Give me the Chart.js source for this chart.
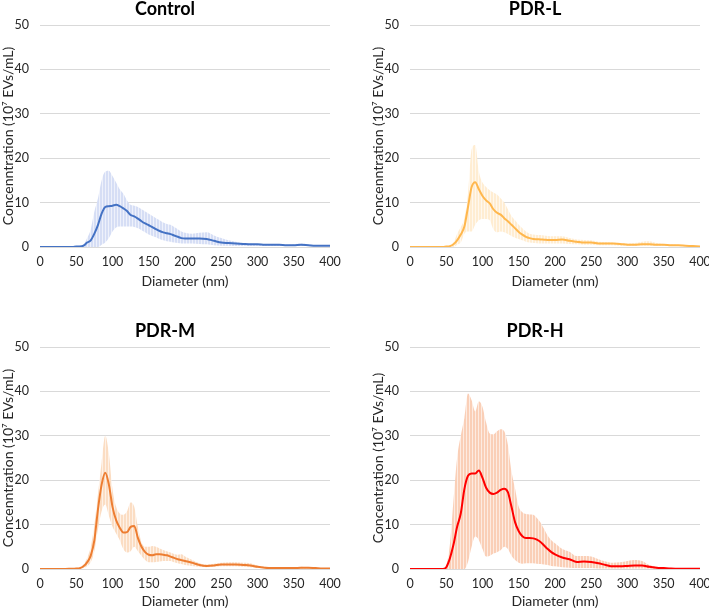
<!DOCTYPE html>
<html><head><meta charset="utf-8">
<script src="https://cdn.jsdelivr.net/npm/chart.js@4.4.1/dist/chart.umd.min.js"></script>
<style>
html,body{margin:0;padding:0;background:#fff;overflow:hidden;width:709px;height:611px;position:relative}
.p{position:absolute;width:374px;height:305px}
</style></head><body>
<div class="p" style="left:-20px;top:0"><canvas id="c0"></canvas></div>
<div class="p" style="left:350px;top:0"><canvas id="c1"></canvas></div>
<div class="p" style="left:-20px;top:322px"><canvas id="c2"></canvas></div>
<div class="p" style="left:350px;top:322px"><canvas id="c3"></canvas></div>
<script>
// Diameter (nm)
const diameters = [0,10,20,30,40,45,50,55,60,65,70,75,80,85,90,95,100,105,110,115,120,125,130,135,140,145,150,155,160,165,170,175,180,185,190,195,200,210,220,230,240,250,260,270,280,290,300,310,320,330,340,350,360,370,380,390,400];
const xTicks = [0,50,100,150,200,250,300,350,400];
const yTicks = [0,10,20,30,40,50];
const panelTitles = ['Control','PDR-L','PDR-M','PDR-H'];
const yTitles = ['Concenntration (10\u2077 EVs/mL)','Concenntration (10\u2077 EVs/mL)','Concenntration (10\u2077 EVs/mL)','Concentration (10\u2077 EVs/mL)'];

const controlMean  = [0,0,0,0,0,0,0.1,0.1,0.3,1.0,1.5,3.0,5.0,7.5,9.0,9.2,9.3,9.5,9.2,8.7,8.1,7.2,6.9,6.4,5.8,5.3,4.9,4.5,4.0,3.6,3.3,3.1,2.9,2.6,2.3,2.0,1.9,1.9,1.9,1.8,1.4,1.0,0.9,0.8,0.7,0.6,0.6,0.5,0.5,0.5,0.4,0.4,0.5,0.4,0.3,0.3,0.3];
const controlUpper = [0,0,0,0,0,0,0.2,0.3,0.5,2,4,8,11,15,17,17.2,16,14.5,13,12,10.5,9.5,9.3,9,8.5,8,7.5,7,6.5,6,5.5,5.2,5,4.5,4,3.5,3.2,3,3.2,3.3,2.6,2,1.5,1.2,0.9,0.8,0.7,0.6,0.6,0.6,0.5,0.6,0.8,0.6,0.4,0.4,0.4];
const controlLower = [0,0,0,0,0,0,0,0,0,0,0,0,0,0.5,1,2,3.5,4.4,4.6,4.6,4.6,4.6,4.5,4.2,3.8,3.3,2.8,2.5,2.2,1.8,1.5,1.3,1.2,1.0,0.9,0.8,0.8,0.8,0.7,0.6,0.4,0.3,0.3,0.2,0.2,0.2,0.2,0.2,0.2,0.2,0.2,0.2,0.2,0.2,0.2,0.2,0.2];

const lowMean  = [0,0,0,0,0,0,0.1,0.2,0.6,1.5,2.8,4.6,9,13.5,14.6,13,11.5,10.5,9.8,8.5,7.7,7.3,6.5,5.8,5,4.2,3.4,2.8,2.3,2.0,1.8,1.75,1.7,1.65,1.6,1.6,1.6,1.7,1.4,1.2,1.0,1.0,0.8,0.8,0.8,0.7,0.5,0.5,0.6,0.6,0.5,0.5,0.4,0.4,0.3,0.2,0.1];
const lowUpper = [0,0,0,0,0,0,0.2,0.3,1,3,4.5,6.5,12,22,23,17,14.5,13.5,12.8,12.3,11.8,11,10,8.5,7,6,5,4.2,3.5,3,2.8,2.7,2.7,2.6,2.5,2.4,2.4,2.4,2,1.7,1.6,1.5,1.2,1.1,1.0,0.9,0.8,0.9,1.2,1.3,0.9,0.7,0.6,0.5,0.4,0.3,0.2];
const lowLower = [0,0,0,0,0,0,0,0,0,0.5,1,3,3.5,3.5,5,6,6.3,6.3,6,4,3.3,3.5,3.3,2.9,2.5,2.1,1.8,1.5,1.2,1.0,0.9,0.85,0.8,0.8,0.8,0.8,0.8,0.8,0.7,0.6,0.5,0.5,0.4,0.4,0.4,0.3,0.3,0.3,0.3,0.3,0.2,0.2,0.2,0.2,0.1,0.1,0.1];

const midMean  = [0,0,0,0,0.05,0.05,0.1,0.2,0.6,1.5,3,6.5,13.5,19,21.7,19,14,11,9.3,8.2,8.3,9.5,9.7,7,5,3.8,3.2,3.1,3.3,3.3,3.2,3.1,2.8,2.5,2.2,2.0,1.8,1.4,0.9,0.7,0.8,1.0,1.0,1.0,0.9,0.8,0.5,0.3,0.2,0.2,0.2,0.2,0.3,0.3,0.2,0.1,0.1];
const midUpper = [0,0,0,0,0.05,0.05,0.2,0.4,1,2.5,5,10,17,24,30,26,18,14,12.5,12.2,13,15,14,9.5,6,5,5,5.2,5,4.6,4.3,4,3.7,3.4,3.2,3.3,2.8,2,1.3,1.0,1.2,1.4,1.5,1.5,1.4,1.3,0.8,0.5,0.4,0.3,0.3,0.4,0.5,0.4,0.3,0.2,0.2];
const midLower = [0,0,0,0,0,0,0,0,0.2,0.6,1.5,4,9,13,14.5,12,9.5,8,6.5,4.5,3.7,4,5,4,3,2,1.5,1.5,1.6,1.7,1.8,1.8,1.8,1.5,1.3,1.1,0.9,0.7,0.5,0.4,0.5,0.6,0.6,0.6,0.5,0.4,0.3,0.2,0.1,0.1,0.1,0.1,0.1,0.1,0.05,0.05,0.05];

const highMean  = [0,0,0,0,0,0,0.4,2.4,5.5,9.5,12.5,18,21,21.5,21.5,22.2,20.5,18.3,17.2,16.9,17.2,17.8,18.1,17.3,14,10.5,8.5,7.4,7.0,7.0,6.9,6.6,6.1,5.3,4.5,3.8,3.3,2.6,2.2,1.6,1.7,1.6,1.3,0.9,0.6,0.6,0.7,0.8,0.8,0.5,0.3,0.2,0.1,0.05,0.05,0.05,0.05];
const highUpper = [0,0,0,0,0,0,0.8,5.5,15.5,25,30,34,39.5,38,35.5,37.8,36.5,33,30.5,30.3,31,31.5,31,28,22,18,14,12.8,12.4,12.3,12.2,11.5,10.5,9,7.5,6.5,5.8,4.5,3.9,2.9,2.9,2.8,2.2,1.7,1.4,1.5,1.8,2.0,1.8,0.9,0.5,0.3,0.2,0.1,0.1,0.1,0.1];
const highLower = [0,0,0,0,0,0,0,0,0,0,0,0,1.6,5,7.3,6.5,4.5,2.8,3,3.5,3.8,4.2,5,4.5,3,2,1.4,1.2,1.3,1.3,1.3,1.2,1.1,1.0,0.9,0.7,0.6,0.4,0.3,0.2,0.2,0.2,0.1,0.1,0.1,0.1,0.1,0.1,0.1,0.1,0,0,0,0,0,0,0];

const FONT = 'Lato';
const TXT = '#262626';
function pts(arr){ return diameters.map((d,i)=>({x:d,y:arr[i]})); }
function stripes(c1, c2){
  const cv = document.createElement('canvas'); cv.width = 3; cv.height = 1;
  const g = cv.getContext('2d');
  g.fillStyle = c1; g.fillRect(0,0,2,1);
  g.fillStyle = c2; g.fillRect(2,0,1,1);
  return g.createPattern(cv, 'repeat');
}

function makeChart(id, title, yTitle, mean, upper, lower, lineColor, band, xTitlePad){
  new Chart(document.getElementById(id), {
    type:'line',
    data:{datasets:[
      {data:pts(mean), borderColor:lineColor, borderWidth:2, pointRadius:0, fill:false, cubicInterpolationMode:'monotone', order:0},
      {data:pts(lower), borderWidth:0, borderColor:'rgba(0,0,0,0)', pointRadius:0, fill:false, cubicInterpolationMode:'monotone', order:2},
      {data:pts(upper), borderWidth:0, borderColor:'rgba(0,0,0,0)', pointRadius:0, fill:'-1', backgroundColor:band, cubicInterpolationMode:'monotone', order:1}
    ]},
    options:{
      responsive:true, maintainAspectRatio:false, animation:false,
      layout:{padding:{left:20,right:24,top:0,bottom:0}},
      plugins:{
        legend:{display:false}, tooltip:{enabled:false},
        title:{display:true, text:title, color:'#000', font:{family:FONT, size:18, weight:'bold', lineHeight:1}, padding:{top:0,bottom:7}}
      },
      scales:{
        x:{type:'linear', min:xTicks[0], max:xTicks[xTicks.length-1],
          afterBuildTicks(s){ s.ticks = xTicks.map(v=>({value:v})); },
          ticks:{color:TXT, font:{family:FONT, size:12.5}, padding:7, maxRotation:0, autoSkip:false},
          grid:{display:false, drawTicks:false}, border:{display:false},
          title:{display:true, text:'Diameter (nm)', color:TXT, font:{family:FONT, size:14}, padding:{top:0,bottom:xTitlePad}},
          afterFit(s){ s.height=58; s.paddingLeft=0; s.paddingRight=0; }
        },
        y:{min:yTicks[0], max:yTicks[yTicks.length-1],
          afterBuildTicks(s){ s.ticks = yTicks.map(v=>({value:v})); },
          ticks:{color:TXT, font:{family:FONT, size:12.5}, padding:11},
          grid:{color:'#d9d9d9', drawTicks:false, lineWidth:1}, border:{display:false},
          title:{display:true, text:yTitle, color:TXT, font:{family:FONT, size:14}, padding:{top:0,bottom:0}},
          afterFit(s){ s.width=40; s.paddingTop=0; s.paddingBottom=0; }
        }
      }
    }
  });
}
makeChart('c0', panelTitles[0], yTitles[0], controlMean, controlUpper, controlLower, '#4472C4', stripes('#D6DEF5','#EEF1FB'), 15);
makeChart('c1', panelTitles[1], yTitles[1], lowMean, lowUpper, lowLower, '#FFB74D', stripes('#FFEDD2','#FFF8EE'), 15);
makeChart('c2', panelTitles[2], yTitles[2], midMean, midUpper, midLower, '#ED7D31', stripes('#FBDDC3','#FEF1E6'), 17);
makeChart('c3', panelTitles[3], yTitles[3], highMean, highUpper, highLower, '#FF0000', stripes('#FACFB7','#FDEBE1'), 17);
</script>
</body></html>
